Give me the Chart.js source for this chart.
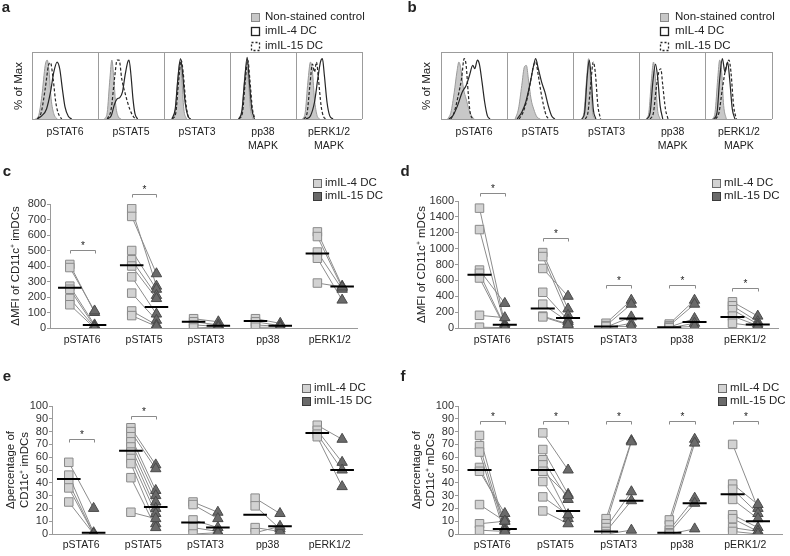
<!DOCTYPE html>
<html><head><meta charset="utf-8">
<script src="https://cdn.jsdelivr.net/npm/chart.js@4/dist/chart.umd.min.js"></script>
<style>
html,body{margin:0;padding:0;background:#fff}
body{width:790px;height:556px;position:relative;overflow:hidden}
canvas{position:absolute}
</style></head><body>
<canvas id="ha" width="395" height="160" style="left:0;top:0"></canvas>
<canvas id="hb" width="395" height="160" style="left:395px;top:0"></canvas>
<canvas id="pc" width="395" height="196" style="left:0;top:160px"></canvas>
<canvas id="pd" width="395" height="196" style="left:395px;top:160px"></canvas>
<canvas id="pe" width="395" height="191" style="left:0;top:365px"></canvas>
<canvas id="pf" width="395" height="191" style="left:395px;top:365px"></canvas>
<script>
// ---------------- DATA ----------------
const CATS = ['pSTAT6', 'pSTAT5', 'pSTAT3', 'pp38', 'pERK1/2'];
const HIST_LABELS = ['pSTAT6', 'pSTAT5', 'pSTAT3', ['pp38', 'MAPK'], ['pERK1/2', 'MAPK']];

// Histograms: [x (0-100 within box), % of max]
const aCtrl = [
  [[5,0],[10,5],[15,35],[20,80],[23,88],[26,70],[29,30],[33,8],[38,0]],
  [[10,0],[14,10],[18,60],[21,88],[24,60],[27,20],[31,3],[35,0]],
  [[12,0],[17,10],[21,60],[24,85],[27,60],[30,15],[34,0]],
  [[13,0],[18,10],[22,60],[25,80],[28,55],[31,15],[35,0]],
  [[10,0],[14,10],[18,55],[22,85],[25,70],[28,30],[32,5],[36,0]]
];
const aIL4 = [
  [[8,0],[15,5],[22,15],[28,40],[33,70],[38,85],[42,75],[46,45],[50,18],[55,4],[60,0]],
  [[14,0],[20,5],[25,22],[29,30],[33,32],[37,40],[41,65],[45,85],[47,88],[50,65],[53,30],[56,8],[60,0]],
  [[12,0],[17,15],[21,60],[25,90],[28,70],[32,25],[36,5],[40,0]],
  [[13,0],[18,12],[22,55],[26,92],[29,60],[33,15],[37,0]],
  [[15,0],[22,5],[28,25],[33,60],[37,85],[40,90],[43,65],[47,25],[51,5],[56,0]]
];
const aIL15 = [
  [[8,0],[14,10],[20,45],[25,80],[28,84],[32,60],[36,25],[40,8],[45,0]],
  [[14,0],[20,15],[25,60],[29,88],[32,88],[36,60],[42,35],[48,15],[54,3],[58,0]],
  [[13,0],[18,10],[22,55],[26,88],[29,70],[33,25],[37,3],[40,0]],
  [[14,0],[19,10],[23,55],[27,88],[30,60],[34,15],[38,0]],
  [[12,0],[17,10],[21,50],[25,82],[28,70],[31,85],[34,60],[38,20],[42,3],[46,0]]
];
const bCtrl = [
  [[10,0],[15,10],[20,40],[24,70],[27,85],[30,75],[34,45],[38,30],[42,15],[46,5],[50,0]],
  [[12,0],[17,15],[22,50],[26,78],[29,80],[32,60],[36,30],[40,15],[45,3],[50,0]],
  [[12,0],[16,10],[20,60],[23,90],[26,55],[29,10],[33,0]],
  [[10,0],[14,10],[18,60],[21,85],[24,60],[27,15],[31,0]],
  [[10,0],[14,10],[18,60],[21,88],[24,70],[27,20],[31,0]]
];
const bIL4 = [
  [[12,0],[18,5],[25,20],[32,40],[38,50],[43,65],[48,80],[51,75],[55,88],[58,82],[62,55],[66,25],[70,5],[74,0]],
  [[15,0],[22,10],[28,25],[34,50],[40,80],[43,90],[47,75],[52,55],[57,40],[62,20],[67,5],[72,0]],
  [[13,0],[17,10],[21,65],[24,88],[27,60],[30,15],[34,0]],
  [[11,0],[16,10],[20,55],[24,82],[27,65],[31,20],[35,0]],
  [[12,0],[17,10],[21,60],[25,90],[29,70],[33,85],[36,60],[40,15],[44,0]]
];
const bIL15 = [
  [[15,0],[20,10],[26,35],[31,60],[35,90],[38,80],[41,40],[44,10],[48,0]],
  [[18,0],[24,10],[30,30],[35,55],[40,80],[43,85],[47,65],[51,40],[55,20],[59,5],[63,0]],
  [[18,0],[22,10],[26,50],[30,85],[33,70],[37,20],[41,0]],
  [[16,0],[21,10],[25,45],[29,70],[32,75],[35,50],[39,15],[43,0]],
  [[15,0],[20,10],[25,45],[30,75],[35,88],[38,70],[42,20],[46,0]]
];

// Panel c: ΔMFI imDCs (paired by index)
const cIL4  = [[410,390,270,250,190,150],[770,720,500,440,400,330,225,110,80],[60,40,20,0],[60,40,20,5],[620,590,490,450,290]];
const cIL15 = [[100,110,20,10,5,0],[270,350,250,210,190,90,50,20,10],[40,20,10,5],[30,15,10,5],[270,260,250,180,265]];
const cMean4 = [260,405,40,45,480];
const cMean15 = [20,135,15,15,268];
const cSig = [505,862,null,null,null];

// Panel d: ΔMFI mDCs
const dIL4  = [[1510,1240,730,690,630,160,10],[950,900,750,450,300,150,140],[60,30,10,0,20],[50,30,10,0,5],[330,280,230,150,60]];
const dIL15 = [[50,30,310,20,10,130,5],[240,160,400,100,80,50,40],[350,300,140,60,20],[350,300,120,60,20],[150,80,50,30,20]];
const dMean4 = [670,245,20,10,140];
const dMean15 = [40,125,120,75,45];
const dSig = [1695,1140,545,545,510];

// Panel e: Δpercentage imDCs
const eIL4  = [[56,46,40,36,25],[83,80,76,72,68,64,59,55,44,17],[25,23,11,5,0],[28,22,5,1],[85,81,78,76]];
const eIL15 = [[20,1,0,0,0],[54,51,34,30,25,20,16,8,5,12],[17,12,5,2,1],[16,4,2,6],[74,56,50,37]];
const eMean4 = [43,65,9,15,79];
const eMean15 = [1,21,5,6,50];
const eSig = [74,92,null,null,null];

// Panel f: Δpercentage mDCs
const fIL4  = [[77,69,64,52,49,23,8,3],[79,66,58,54,49,41,29,18],[12,8,5,2,0],[11,7,3,1,0],[70,39,35,27,15,12,5,2]];
const fIL15 = [[5,3,0,12,16,10,10,2],[50,31,27,15,30,12,15,8],[73,72,33,26,3],[74,71,28,24,4],[20,23,16,12,5,2,2,0]];
const fMean4 = [50,50,2,1,31];
const fMean15 = [4,18,26,24,10];
const fSig = [88,88,88,88,88];

// ---------------- RENDERING ----------------
const FONT = '"Liberation Sans", Arial, Helvetica, sans-serif';
Chart.defaults.font.family = FONT;
Chart.defaults.color = '#222';
const OFF = 0.2, HW = 0.19;

function drawText(ctx, t) {
  ctx.save();
  ctx.font = (t.bold ? 'bold ' : '') + t.size + 'px ' + FONT;
  ctx.fillStyle = t.color || '#222';
  ctx.textAlign = t.align || 'center';
  ctx.textBaseline = 'middle';
  ctx.translate(t.x, t.y);
  if (t.rot) ctx.rotate(-Math.PI / 2);
  ctx.fillText(t.text, 0, 0);
  ctx.restore();
}
function drawLegend(ctx, lg) {
  ctx.save();
  ctx.font = lg.size + 'px ' + FONT;
  ctx.textBaseline = 'middle'; ctx.textAlign = 'left';
  lg.items.forEach((it, i) => {
    const cy = lg.ys[i], bx = lg.x, by = Math.round(cy - lg.box / 2);
    if (it.fill) { ctx.fillStyle = it.fill; ctx.fillRect(bx, by, lg.box, lg.box); }
    ctx.setLineDash(it.dash || []);
    ctx.lineWidth = it.lw || 1; ctx.strokeStyle = it.stroke;
    ctx.strokeRect(bx + 0.5, by + 0.5, lg.box, lg.box);
    ctx.setLineDash([]);
    ctx.fillStyle = '#222';
    ctx.fillText(it.label, lg.tx, cy);
  });
  ctx.restore();
}
function decor(cfg) {
  return {
    id: 'decor',
    afterDraw(chart) {
      const ctx = chart.ctx;
      (cfg.texts || []).forEach(t => drawText(ctx, t));
      if (cfg.legend) drawLegend(ctx, cfg.legend);
      if (cfg.histLabels) {
        const xs = chart.scales.x, b = chart.chartArea.bottom;
        HIST_LABELS.forEach((l, k) => {
          const lines = Array.isArray(l) ? l : [l];
          lines.forEach((s, j) => drawText(ctx, {text: s, x: xs.getPixelForValue(100 * k + 50), y: b + 13 + 14 * j, size: 10.5}));
        });
      }
      if (cfg.sig) {
        const xs = chart.scales.x, ys = chart.scales.y;
        ctx.save();
        cfg.sig.forEach((lv, i) => {
          if (lv == null) return;
          const x1 = Math.round(xs.getPixelForValue(i - OFF)) + 0.5, x2 = Math.round(xs.getPixelForValue(i + OFF)) + 0.5;
          const y = Math.round(ys.getPixelForValue(lv)) + 0.5;
          ctx.strokeStyle = '#8a8a8a'; ctx.lineWidth = 1;
          ctx.beginPath(); ctx.moveTo(x1, y + 3); ctx.lineTo(x1, y); ctx.lineTo(x2, y); ctx.lineTo(x2, y + 3); ctx.stroke();
          drawText(ctx, {text: '*', x: (x1 + x2) / 2, y: y - 4, size: 10});
        });
        ctx.restore();
      }
    }
  };
}

function histChart(id, ctrl, il4, il15, cfg) {
  const datasets = [];
  for (let k = 0; k < 5; k++) {
    const shift = pts => pts.map(p => ({x: p[0] + 100 * k, y: p[1]}));
    datasets.push({data: shift(il15[k]), borderColor: '#262626', borderWidth: 1.2, borderDash: [3, 2], fill: false, pointRadius: 0, cubicInterpolationMode: 'monotone', order: 0});
    datasets.push({data: shift(il4[k]), borderColor: '#262626', borderWidth: 1.2, fill: false, pointRadius: 0, cubicInterpolationMode: 'monotone', order: 1});
    datasets.push({data: shift(ctrl[k]), borderColor: '#9a9a9a', backgroundColor: '#c8c8c8', borderWidth: 1, fill: 'origin', pointRadius: 0, cubicInterpolationMode: 'monotone', order: 2});
  }
  new Chart(document.getElementById(id), {
    type: 'line',
    data: {datasets},
    options: {
      responsive: false, animation: false, events: [],
      layout: {padding: {left: cfg.left, right: cfg.right, top: 52, bottom: 41}},
      plugins: {legend: {display: false}, tooltip: {enabled: false}},
      scales: {
        x: {type: 'linear', min: 0, max: 500, ticks: {display: false, stepSize: 100}, grid: {color: '#9c9c9c', drawTicks: false}, border: {display: false}, afterFit: s => { s.height = 0; }},
        y: {type: 'linear', min: 0, max: 100, ticks: {display: false, stepSize: 100}, grid: {color: '#9c9c9c', drawTicks: false}, border: {display: false}, afterFit: s => { s.width = 0; }}
      }
    },
    plugins: [decor(cfg.decor)]
  });
}

function dotChart(id, il4, il15, m4, m15, cfg) {
  const lines = [], sq = [], tri = [], means = [];
  il4.forEach((arr, i) => {
    arr.forEach((v, j) => {
      const w = il15[i][j];
      sq.push({x: i - OFF, y: v});
      tri.push({x: i + OFF, y: w});
      lines.push({x: i - OFF, y: v}, {x: i + OFF, y: w}, {x: i + OFF, y: null});
    });
  });
  m4.forEach((m, i) => means.push({x: i - OFF - HW, y: m}, {x: i - OFF + HW, y: m}, {x: i, y: null}));
  m15.forEach((m, i) => means.push({x: i + OFF - HW, y: m}, {x: i + OFF + HW, y: m}, {x: i + 0.5, y: null}));
  new Chart(document.getElementById(id), {
    type: 'scatter',
    data: {datasets: [
      {data: means, showLine: true, spanGaps: false, borderColor: '#000', borderWidth: 2, pointRadius: 0, order: 0},
      {label: cfg.names[1], data: tri, pointStyle: 'triangle', pointRadius: 6, backgroundColor: '#6a6a6a', borderColor: '#4a4a4a', borderWidth: 1, order: 1},
      {label: cfg.names[0], data: sq, pointStyle: 'rect', pointRadius: 6, backgroundColor: '#d2d2d2', borderColor: '#8a8a8a', borderWidth: 1, order: 2},
      {data: lines, showLine: true, spanGaps: false, borderColor: '#8c8c8c', borderWidth: 1, pointRadius: 0, order: 3}
    ]},
    options: {
      responsive: false, animation: false, events: [],
      layout: {padding: {left: 0, right: cfg.right, top: cfg.top, bottom: cfg.bottom}},
      plugins: {legend: {display: false}, tooltip: {enabled: false}},
      scales: {
        x: {
          type: 'linear', min: cfg.xmin, max: cfg.xmax,
          afterBuildTicks: s => { s.ticks = CATS.map((c, i) => ({value: i})); },
          ticks: {callback: v => CATS[v] ?? '', font: {size: 10.5}, color: '#222', padding: cfg.xpad, maxRotation: 0, autoSkip: false},
          grid: {display: false, drawTicks: false},
          border: {display: true, color: '#9a9a9a'},
          afterFit: s => { s.height = cfg.xh; }
        },
        y: {
          type: 'linear', min: 0, max: cfg.ymax,
          ticks: {stepSize: cfg.step, autoSkip: false, callback: v => String(v), font: {size: 11}, color: '#333', padding: 1},
          grid: {drawOnChartArea: false, drawTicks: true, tickLength: 3, color: '#9a9a9a'},
          border: {display: true, color: '#9a9a9a'},
          title: {display: true, text: cfg.title, font: {size: 11.5}, color: '#222', padding: {top: cfg.tpad, bottom: 0}},
          afterFit: s => { s.width = cfg.yw; }
        }
      }
    },
    plugins: [decor({
      texts: [{text: cfg.letter, x: cfg.lx, y: 12, size: 15, bold: true}],
      legend: {x: cfg.legX, tx: cfg.legX + 12, ys: [23, 36], box: 8, size: 11.5, items: [
        {label: cfg.names[0], fill: '#d2d2d2', stroke: '#6a6a6a'},
        {label: cfg.names[1], fill: '#6a6a6a', stroke: '#3a3a3a'}
      ]},
      sig: cfg.sig
    })]
  });
}

histChart('ha', aCtrl, aIL4, aIL15, {left: 32, right: 33, decor: {
  texts: [{text: 'a', x: 6, y: 8, size: 15, bold: true}, {text: '% of Max', x: 19, y: 86, size: 11.5, rot: true}],
  legend: {x: 251, tx: 265, ys: [16.5, 31, 45.5], box: 8, size: 11.5, items: [
    {label: 'Non-stained control', fill: '#c8c8c8', stroke: '#8a8a8a'},
    {label: 'imIL-4 DC', stroke: '#222', lw: 1.3},
    {label: 'imIL-15 DC', stroke: '#222', lw: 1.3, dash: [2, 2]}
  ]},
  histLabels: true
}});
histChart('hb', bCtrl, bIL4, bIL15, {left: 46, right: 18, decor: {
  texts: [{text: 'b', x: 17, y: 8, size: 15, bold: true}, {text: '% of Max', x: 32, y: 86, size: 11.5, rot: true}],
  legend: {x: 265, tx: 280, ys: [16.5, 31, 45.5], box: 8, size: 11.5, items: [
    {label: 'Non-stained control', fill: '#c8c8c8', stroke: '#8a8a8a'},
    {label: 'mIL-4 DC', stroke: '#222', lw: 1.3},
    {label: 'mIL-15 DC', stroke: '#222', lw: 1.3, dash: [2, 2]}
  ]},
  histLabels: true
}});

dotChart('pc', cIL4, cIL15, cMean4, cMean15, {names: ['imIL-4 DC', 'imIL-15 DC'], letter: 'c', lx: 7, legX: 313,
  xmin: -0.52, xmax: 4.44, ymax: 800, step: 100, yw: 50, top: 44, right: 38, bottom: 4, xh: 24, xpad: 6,
  title: 'ΔMFI of CD11c⁺ imDCs', tpad: 9, sig: cSig});
dotChart('pd', dIL4, dIL15, dMean4, dMean15, {names: ['mIL-4 DC', 'mIL-15 DC'], letter: 'd', lx: 10, legX: 317,
  xmin: -0.54, xmax: 4.52, ymax: 1600, step: 200, yw: 63, top: 41, right: 12, bottom: 4, xh: 24, xpad: 6,
  title: 'ΔMFI of CD11c⁺ mDCs', tpad: 20, sig: dSig});
dotChart('pe', eIL4, eIL15, eMean4, eMean15, {names: ['imIL-4 DC', 'imIL-15 DC'], letter: 'e', lx: 7, legX: 302,
  xmin: -0.47, xmax: 4.52, ymax: 100, step: 10, yw: 52, top: 41, right: 33, bottom: 2, xh: 20, xpad: 5,
  title: ['Δpercentage of', 'CD11c⁺ imDCs'], tpad: 4, sig: eSig});
dotChart('pf', fIL4, fIL15, fMean4, fMean15, {names: ['mIL-4 DC', 'mIL-15 DC'], letter: 'f', lx: 8, legX: 323,
  xmin: -0.54, xmax: 4.58, ymax: 100, step: 10, yw: 63, top: 41, right: 8, bottom: 2, xh: 20, xpad: 5,
  title: ['Δpercentage of', 'CD11c⁺ mDCs'], tpad: 15, sig: fSig});
</script>
</body></html>
